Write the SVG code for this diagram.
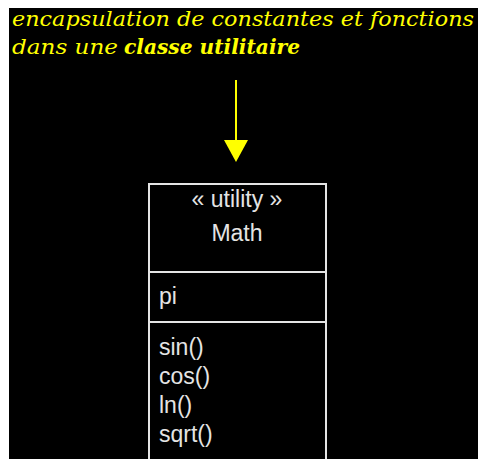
<svg xmlns="http://www.w3.org/2000/svg" width="478" height="459" viewBox="0 0 478 459">
<style>
.title{font-family:"DejaVu Serif","Liberation Serif",serif;font-style:italic;font-size:21px;fill:#ffff00}
.uml{font-family:"Liberation Sans",Arial,sans-serif;font-size:23px;fill:#e4e4e4}
.box{fill:none;stroke:#e4e4e4;stroke-width:2}
.arrow{stroke:#ffff00;stroke-width:2;fill:none}
.head{fill:#ffff00}
</style>
<rect x="0" y="0" width="478" height="459" fill="#ffffff"/>
<rect x="9" y="8" width="469" height="451" fill="#000000"/>
<g id="title">
<text class="title" x="12" y="26" textLength="462" lengthAdjust="spacingAndGlyphs">encapsulation de constantes et fonctions</text>
<text class="title" x="12" y="54"><tspan textLength="106" lengthAdjust="spacingAndGlyphs">dans une</tspan><tspan x="124" font-weight="bold" textLength="176" lengthAdjust="spacingAndGlyphs">classe utilitaire</tspan></text>
</g>
<g id="connectors">
<line class="arrow" x1="236" y1="80" x2="236" y2="142"/>
<polygon class="head" points="224,140 248,140 236,162"/>
</g>
<g id="math-class">
<rect class="box" x="149" y="184" width="177" height="290"/>
<line class="box" x1="149" y1="272" x2="326" y2="272"/>
<line class="box" x1="149" y1="322" x2="326" y2="322"/>
<text class="uml" x="237" y="207" text-anchor="middle">« utility »</text>
<text class="uml" x="237" y="241" text-anchor="middle">Math</text>
<text class="uml" x="159" y="304">pi</text>
<text class="uml" x="159" y="355">sin()</text>
<text class="uml" x="159" y="384">cos()</text>
<text class="uml" x="159" y="413">ln()</text>
<text class="uml" x="159" y="442">sqrt()</text>
</g>
</svg>
